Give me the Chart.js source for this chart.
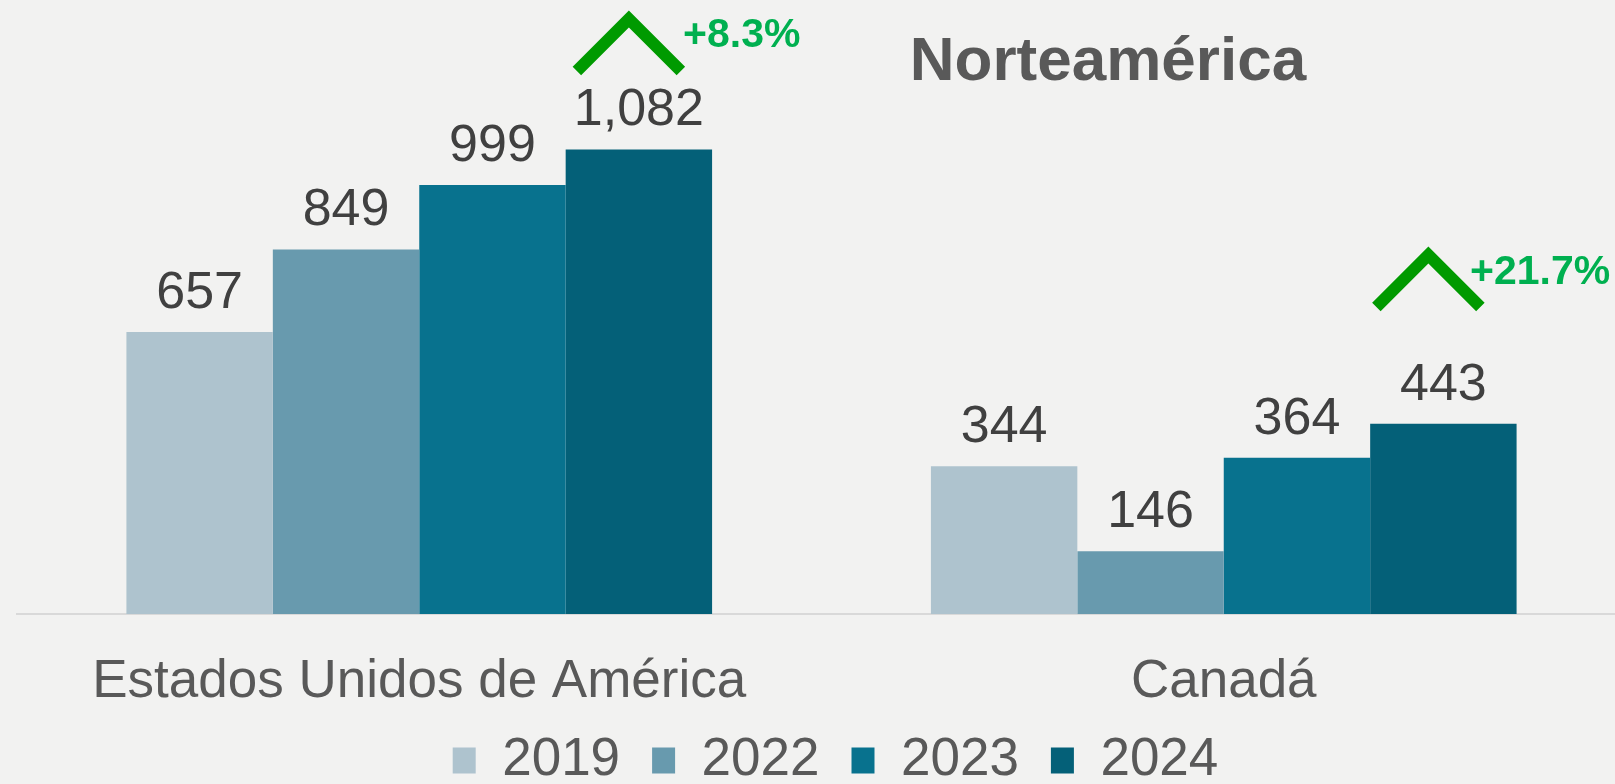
<!DOCTYPE html>
<html>
<head>
<meta charset="utf-8">
<script src="https://cdn.jsdelivr.net/npm/chart.js@4.4.0/dist/chart.umd.min.js"></script>
<style>
    html, body { margin: 0; padding: 0; overflow: hidden; background: #f2f2f1; }
    #wrap { position: relative; width: 1640px; height: 797px; }
</style>
</head>
<body>
<div id="wrap"><canvas id="myChart"></canvas></div>
<script>
// Data
const categories = ['Estados Unidos de América', 'Canadá'];
const years = ['2019', '2022', '2023', '2024'];
const values2019 = [657, 344];
const values2022 = [849, 146];
const values2023 = [999, 364];
const values2024 = [1082, 443];
const growthLabels = ['+8.3%', '+21.7%'];

const barColors = ['#aec3ce', '#689aae', '#08728e', '#046078'];
const fontFamily = '"Liberation Sans", Arial, sans-serif';

// Value labels above every bar
const valueLabels = {
    id: 'valueLabels',
    afterDatasetsDraw(chart) {
        const ctx = chart.ctx;
        ctx.save();
        ctx.font = `52px ${fontFamily}`;
        ctx.fillStyle = '#404040';
        ctx.textAlign = 'center';
        ctx.textBaseline = 'alphabetic';
        chart.data.datasets.forEach((ds, i) => {
            chart.getDatasetMeta(i).data.forEach((bar, j) => {
                ctx.fillText(ds.data[j].toLocaleString('en-US'), bar.x, bar.y - 24);
            });
        });
        ctx.restore();
    }
};

// Nudge the legend a little to the right, as in the original
const legendShift = {
    id: 'legendShift',
    afterLayout(chart) {
        chart.legend.left += 14;
        chart.legend.right += 14;
    }
};

// Title and growth chevrons
const extras = {
    id: 'extras',
    afterDraw(chart) {
        const ctx = chart.ctx;
        ctx.save();
        ctx.font = `bold 62px ${fontFamily}`;
        ctx.fillStyle = '#595959';
        ctx.textAlign = 'center';
        ctx.textBaseline = 'alphabetic';
        ctx.fillText('Norteamérica', 1108, 80);

        const last = chart.getDatasetMeta(years.length - 1).data;
        const apexDx = [-10, -15];
        const apexY = [19, 255];
        const textPos = [[683, 47], [1470, 284]];
        last.forEach((bar, j) => {
            const cx = bar.x + apexDx[j];
            ctx.beginPath();
            ctx.moveTo(cx - 52, apexY[j] + 52);
            ctx.lineTo(cx, apexY[j]);
            ctx.lineTo(cx + 52, apexY[j] + 52);
            ctx.strokeStyle = '#009a00';
            ctx.lineWidth = 12;
            ctx.lineJoin = 'miter';
            ctx.stroke();

            ctx.font = `bold 41px ${fontFamily}`;
            ctx.fillStyle = '#00b050';
            ctx.textAlign = 'left';
            ctx.fillText(growthLabels[j], textPos[j][0], textPos[j][1]);
        });
        ctx.restore();
    }
};

const seriesValues = [values2019, values2022, values2023, values2024];

const ctx = document.getElementById('myChart').getContext('2d');
const myChart = new Chart(ctx, {
    type: 'bar',
    data: {
        labels: categories,
        datasets: years.map((y, i) => ({
            label: y,
            data: seriesValues[i],
            backgroundColor: barColors[i],
            borderWidth: 0,
            categoryPercentage: 0.728,
            barPercentage: 1.0
        }))
    },
    options: {
        responsive: true,
        maintainAspectRatio: false,
        animation: false,
        layout: {
            padding: { left: 17, right: 14, top: 0, bottom: 0 }
        },
        plugins: {
            legend: {
                display: true,
                position: 'bottom',
                labels: {
                    boxWidth: 23,
                    boxHeight: 26,
                    padding: 32,
                    color: '#595959',
                    font: { family: fontFamily, size: 53 }
                }
            },
            title: { display: false },
            tooltip: { enabled: false }
        },
        scales: {
            x: {
                grid: { display: false, drawTicks: false },
                border: { display: true, color: '#d9d9d9', width: 2 },
                ticks: {
                    color: '#595959',
                    padding: 37,
                    font: { family: fontFamily, size: 53 }
                },
                afterFit(axis) {
                    axis.height = 88;
                }
            },
            y: {
                display: false,
                min: 0,
                max: 1430
            }
        }
    },
    plugins: [valueLabels, legendShift, extras]
});
</script>
</body>
</html>
